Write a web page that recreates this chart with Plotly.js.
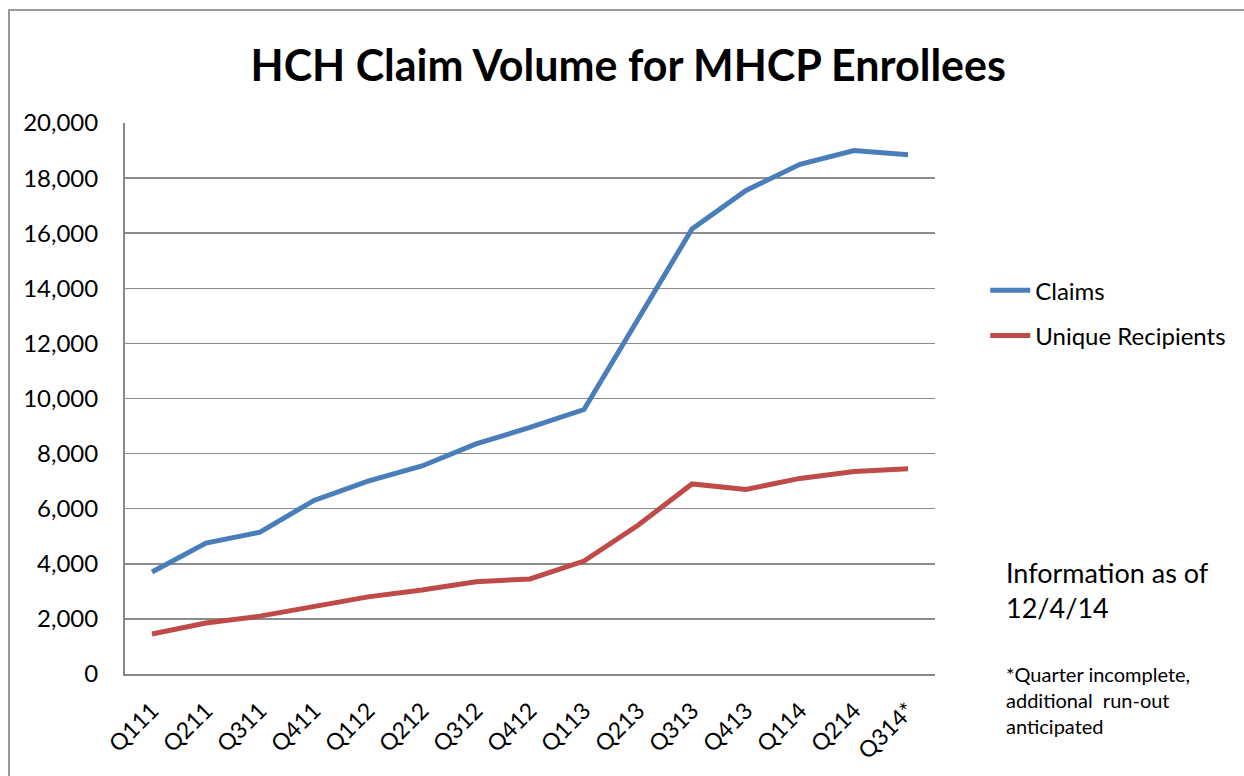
<!DOCTYPE html>
<html>
<head>
<meta charset="utf-8">
<script src="https://cdn.plot.ly/plotly-3.0.1.min.js"></script>
<style>
html,body{margin:0;padding:0;overflow:hidden;background:#fff;}
#chart{width:1244px;height:776px;position:absolute;left:0;top:0;}
#frame{position:absolute;left:8px;top:9px;width:1400px;height:900px;border:2px solid #9a9a9a;pointer-events:none;box-sizing:border-box;}
</style>
</head>
<body>
<div id="chart"></div>
<div id="frame"></div>
<script>
const quarters = ["Q111","Q211","Q311","Q411","Q112","Q212","Q312","Q412","Q113","Q213","Q313","Q413","Q114","Q214","Q314*"];
const claims = [3700,4750,5150,6300,7000,7550,8350,8950,9600,12850,16150,17550,18500,19000,18850];
const uniqueRecipients = [1450,1850,2100,2450,2800,3050,3350,3450,4100,5400,6900,6700,7100,7350,7450];
const yTicks = [0,2000,4000,6000,8000,10000,12000,14000,16000,18000,20000];
const yTickLabels = ["0","2,000","4,000","6,000","8,000","10,000","12,000","14,000","16,000","18,000","20,000"];

const FONT = "Lato, 'Open Sans', sans-serif";

const traces = [
  {x: quarters, y: claims, name: "Claims", type: "scatter", mode: "lines", legendgroup: "a",
   line: {color: "#4A7EBB", width: 5}},
  {x: quarters, y: uniqueRecipients, name: "Unique Recipients", type: "scatter", mode: "lines", legendgroup: "b",
   line: {color: "#BE4B48", width: 5}}
];

const layout = {
  width: 1244, height: 776,
  margin: {l: 125, r: 309, t: 123, b: 102},
  paper_bgcolor: "#fff", plot_bgcolor: "#fff",
  font: {family: FONT, color: "#000"},
  title: {text: "<b>HCH Claim Volume for MHCP Enrollees</b>", x: 0.505, xanchor: "center",
          y: 0.915, yanchor: "middle", font: {family: FONT, size: 43, color: "#000"}},
  xaxis: {type: "category", range: [-0.5, 14.5], showgrid: false, showline: true, linecolor: "#888", linewidth: 2,
          tickangle: -45, ticks: "outside", ticklen: 12, tickcolor: "rgba(0,0,0,0)",
          tickfont: {family: FONT, size: 23, color: "#000"}, zeroline: false, fixedrange: true},
  yaxis: {range: [0, 20000], tickvals: yTicks, ticktext: yTickLabels,
          showgrid: true, gridcolor: "#8c8c8c", gridwidth: 1.5,
          showline: true, linecolor: "#888", linewidth: 2, zeroline: false,
          ticks: "outside", ticklen: 20, tickcolor: "rgba(0,0,0,0)",
          tickfont: {family: FONT, size: 24, color: "#000"}, fixedrange: true},
  legend: {x: 1.062, xanchor: "left", y: 0.655, yanchor: "middle", traceorder: "grouped",
           font: {family: FONT, size: 24, color: "#000"}, tracegroupgap: 11,
           itemwidth: 40, bgcolor: "rgba(0,0,0,0)"},
  showlegend: true,
  annotations: [
    {xref: "paper", yref: "paper", x: 1.085, y: 0.152, xanchor: "left", yanchor: "middle", align: "left",
     showarrow: false, text: "Information as of<br>12/4/14", font: {family: FONT, size: 27, color: "#000"}},
    {xref: "paper", yref: "paper", x: 1.085, y: -0.047, xanchor: "left", yanchor: "middle", align: "left",
     showarrow: false, text: "*Quarter incomplete,<br>additional  run-out<br>anticipated",
     font: {family: FONT, size: 20, color: "#000"}}
  ]
};

Plotly.newPlot("chart", traces, layout, {displayModeBar: false, staticPlot: true});
</script>
</body>
</html>
